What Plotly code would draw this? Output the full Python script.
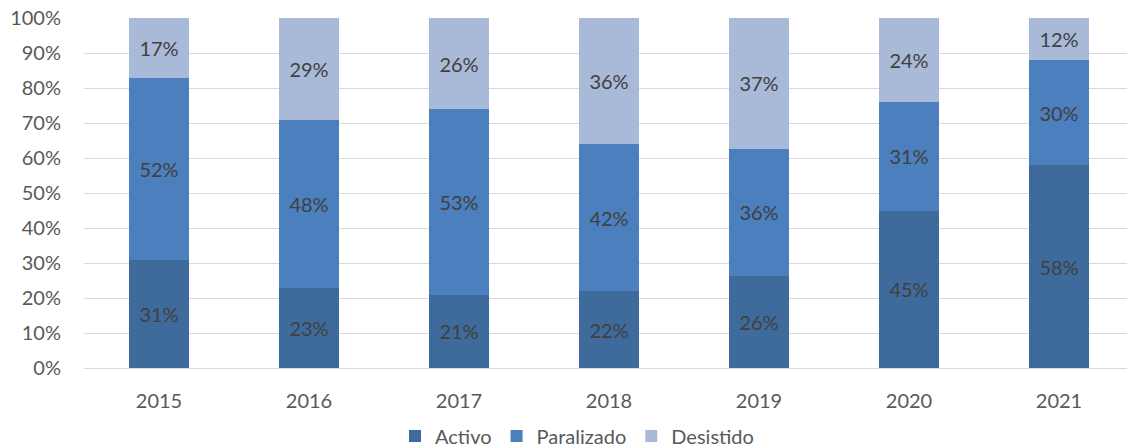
import plotly.graph_objects as go

years = ["2015", "2016", "2017", "2018", "2019", "2020", "2021"]
activo = [31, 23, 21, 22, 26, 45, 58]
paralizado = [52, 48, 53, 42, 36, 31, 30]
desistido = [17, 29, 26, 36, 37, 24, 12]

series = [
    ("Activo", activo, "#3F6A9C"),
    ("Paralizado", paralizado, "#4B7FBD"),
    ("Desistido", desistido, "#A9B9D8"),
]

fig = go.Figure()
for name, vals, color in series:
    fig.add_trace(go.Bar(
        x=years, y=vals, name=name,
        marker=dict(color=color, line=dict(width=0)),
        text=[f"{v}%" for v in vals],
        textposition="inside",
        insidetextanchor="middle",
        textangle=0,
        textfont=dict(color="#404040", size=20, family="Lato"),
    ))

fig.update_layout(
    barmode="stack",
    barnorm="percent",
    bargap=0.6,
    width=1127, height=447,
    margin=dict(l=84, r=0, t=18, b=79, autoexpand=False),
    plot_bgcolor="white",
    paper_bgcolor="white",
    font=dict(family="Lato", color="#595959", size=20),
    uniformtext=dict(mode=False),
    xaxis=dict(
        range=[-0.5, -0.5 + 1043 / 150],
        showgrid=False, zeroline=False, automargin=False,
        ticks="", tickfont=dict(size=20, color="#595959"),
        ticklabelstandoff=19,
    ),
    yaxis=dict(
        range=[0, 100], automargin=False,
        tickvals=[0, 10, 20, 30, 40, 50, 60, 70, 80, 90, 100],
        ticktext=["0%", "10%", "20%", "30%", "40%", "50%", "60%", "70%", "80%", "90%", "100%"],
        showgrid=True, gridcolor="#D9D9D9", gridwidth=1.3,
        zeroline=True, zerolinecolor="#D9D9D9", zerolinewidth=1.3,
        ticks="", tickfont=dict(size=20, color="#595959"),
        ticklabelstandoff=22,
    ),
    legend=dict(
        orientation="h",
        x=0.4727, xanchor="center",
        y=-0.194, yanchor="middle",
        font=dict(size=20, color="#595959"),
        itemwidth=30,
        traceorder="normal",
    ),
    showlegend=True,
)

fig.write_html(
    "out.html",
    config={"displayModeBar": False},
    post_script="document.body.style.margin='0';",
)
